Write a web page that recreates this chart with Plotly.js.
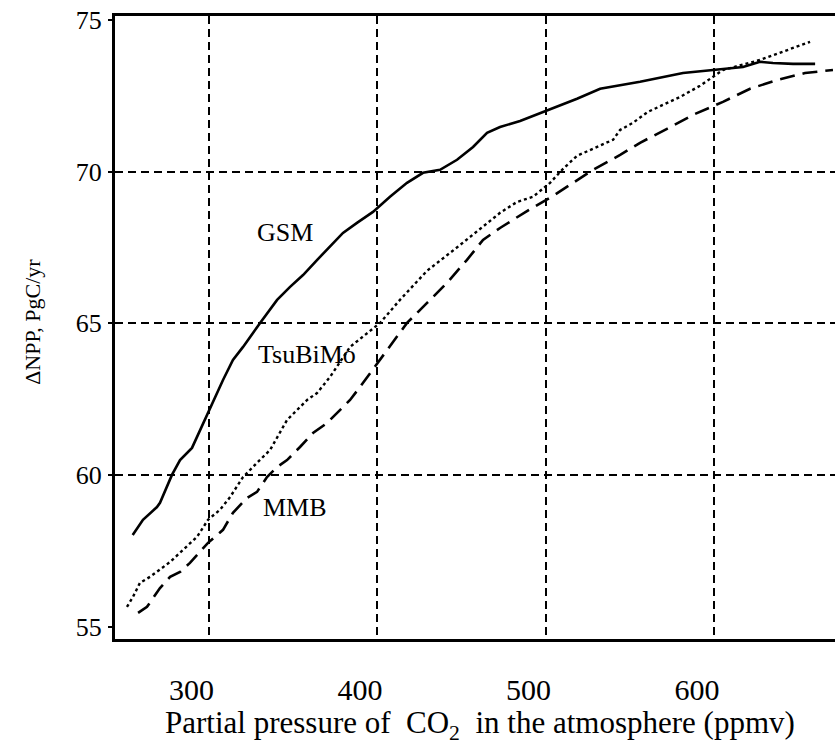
<!DOCTYPE html>
<html>
<head>
<meta charset="utf-8">
<script src="https://cdn.plot.ly/plotly-3.0.1.min.js"></script>
<style>html,body{margin:0;padding:0;background:#fff;}#chart{width:835px;height:749px;}</style>
</head>
<body>
<div id="chart"></div>
<script>
// CO2 partial pressure (ppmv) and ΔNPP (PgC/yr)
const gsmX = [255.0,261.1,269.4,271.2,278.3,283.1,290.2,295.0,299.7,305.0,308.6,314.5,320.5,330.6,340.7,348.4,356.1,364.5,372.1,379.8,388.1,397.6,407.7,417.8,427.3,437.4,447.5,457.0,465.3,473.0,484.9,504.5,518.7,532.4,556.1,581.6,605.4,617.2,627.3,635.0,646.9,660.0];
const gsmY = [58.02,58.52,58.94,59.08,60.00,60.49,60.89,61.48,62.04,62.70,63.13,63.79,64.22,65.01,65.77,66.20,66.59,67.09,67.52,67.98,68.31,68.67,69.17,69.63,69.96,70.06,70.39,70.81,71.28,71.47,71.67,72.10,72.40,72.73,72.96,73.25,73.39,73.45,73.62,73.58,73.55,73.55];

const tsuX = [251.6,255.2,259.3,265.3,277.2,284.9,293.2,299.7,306.8,312.8,320.5,328.8,336.5,346.6,358.5,364.4,372.1,384.0,394.1,401.8,413.6,429.7,449.3,465.3,473.0,483.1,492.6,502.7,510.4,518.7,532.4,540.1,544.2,551.9,560.8,579.8,591.7,605.3,627.3,643.3,657.0];
const tsuY = [55.65,55.98,56.44,56.64,57.13,57.53,57.96,58.52,58.85,59.27,59.93,60.40,60.82,61.81,62.47,62.70,63.23,64.22,64.68,65.01,65.77,66.73,67.58,68.31,68.64,69.00,69.17,69.63,70.09,70.52,70.85,71.05,71.37,71.61,71.97,72.46,72.83,73.35,73.68,74.01,74.28];

const mmbX = [258.2,263.5,271.2,277.2,283.1,289.0,299.7,308.6,314.5,322.8,328.8,334.7,340.7,346.6,354.3,362.0,370.3,378.0,384.0,389.9,401.8,405.9,417.8,429.7,441.5,453.4,462.9,473.0,489.0,504.5,516.4,528.2,544.3,556.1,572.1,587.5,605.3,621.4,637.4,654.0,670.6];
const mmbY = [55.45,55.65,56.27,56.64,56.80,57.10,57.76,58.19,58.75,59.24,59.44,59.93,60.26,60.49,60.92,61.38,61.71,62.14,62.47,62.90,63.79,64.12,65.01,65.67,66.33,67.09,67.75,68.14,68.70,69.20,69.63,70.06,70.55,70.95,71.41,71.87,72.30,72.73,73.02,73.25,73.35];

const xTicks = [300,400,500,600];
const yTicks = [55,60,65,70,75];
const yGrid = [60,65,70];

const seriesNames = ['GSM','TsuBiMo','MMB'];
const labelPos = {GSM:[345.4,67.98], TsuBiMo:[358.5,63.96], MMB:[351.3,58.91]};

const FONT = 'Liberation Serif, Times New Roman, serif';
const xRange = [244.5, 671.8];
const yRange = [54.59, 75.13];

const traces = [
  {x: gsmX, y: gsmY, name: 'GSM', type: 'scatter', mode: 'lines',
   line: {color: '#000', width: 2.6, dash: 'solid'}},
  {x: tsuX, y: tsuY, name: 'TsuBiMo', type: 'scatter', mode: 'lines',
   line: {color: '#000', width: 2.4, dash: 'dot'}},
  {x: mmbX, y: mmbY, name: 'MMB', type: 'scatter', mode: 'lines', yaxis: 'y2',
   line: {color: '#000', width: 2.6, dash: '15px,8px'}}
];

const annotations = seriesNames.map(n => ({
  x: labelPos[n][0], y: labelPos[n][1], xref: 'x', yref: 'y', text: n, showarrow: false,
  font: {family: FONT, size: 26, color: '#000'}, xanchor: 'center', yanchor: 'middle'
}));
annotations.push({
  xref: 'paper', yref: 'paper', x: 0.507, y: -0.138, xanchor: 'center', yanchor: 'middle',
  text: 'Partial pressure of&nbsp; CO<sub>2</sub>&nbsp; in the atmosphere (ppmv)', showarrow: false,
  font: {family: FONT, size: 31, color: '#000'}
});
annotations.push({
  xref: 'paper', yref: 'paper', x: -0.114, y: 0.509, xanchor: 'center', yanchor: 'middle',
  text: 'ΔNPP, PgC/yr', textangle: -90, showarrow: false,
  font: {family: FONT, size: 22, color: '#000'}
});

const layout = {
  width: 835, height: 749,
  margin: {l: 115, r: 0, t: 16, b: 110},
  paper_bgcolor: '#fff', plot_bgcolor: '#fff',
  showlegend: false,
  font: {family: FONT, color: '#000'},
  xaxis: {
    range: xRange, tickmode: 'array', tickvals: xTicks,
    showgrid: true, gridcolor: '#000', gridwidth: 2, griddash: '8px,5px',
    showline: true, linecolor: '#000', linewidth: 3, mirror: true,
    zeroline: false, ticks: '', ticklabelshift: -17, ticklabelstandoff: 22,
    tickfont: {family: FONT, size: 30, color: '#000'}
  },
  yaxis: {
    range: yRange, tickmode: 'array', tickvals: yTicks,
    showgrid: false, showline: true, linecolor: '#000', linewidth: 3, mirror: false,
    zeroline: false, ticks: 'outside', ticklen: 4, tickwidth: 2, tickcolor: '#000',
    ticklabelstandoff: 1,
    tickfont: {family: FONT, size: 26, color: '#000'}
  },
  yaxis2: {
    range: yRange, overlaying: 'y', side: 'left', tickmode: 'array', tickvals: yGrid,
    showgrid: true, gridcolor: '#000', gridwidth: 2, griddash: '8px,5px',
    showticklabels: false, ticks: '', showline: false, zeroline: false
  },
  annotations: annotations
};

Plotly.newPlot('chart', traces, layout, {displayModeBar: false, staticPlot: true});
</script>
</body>
</html>
